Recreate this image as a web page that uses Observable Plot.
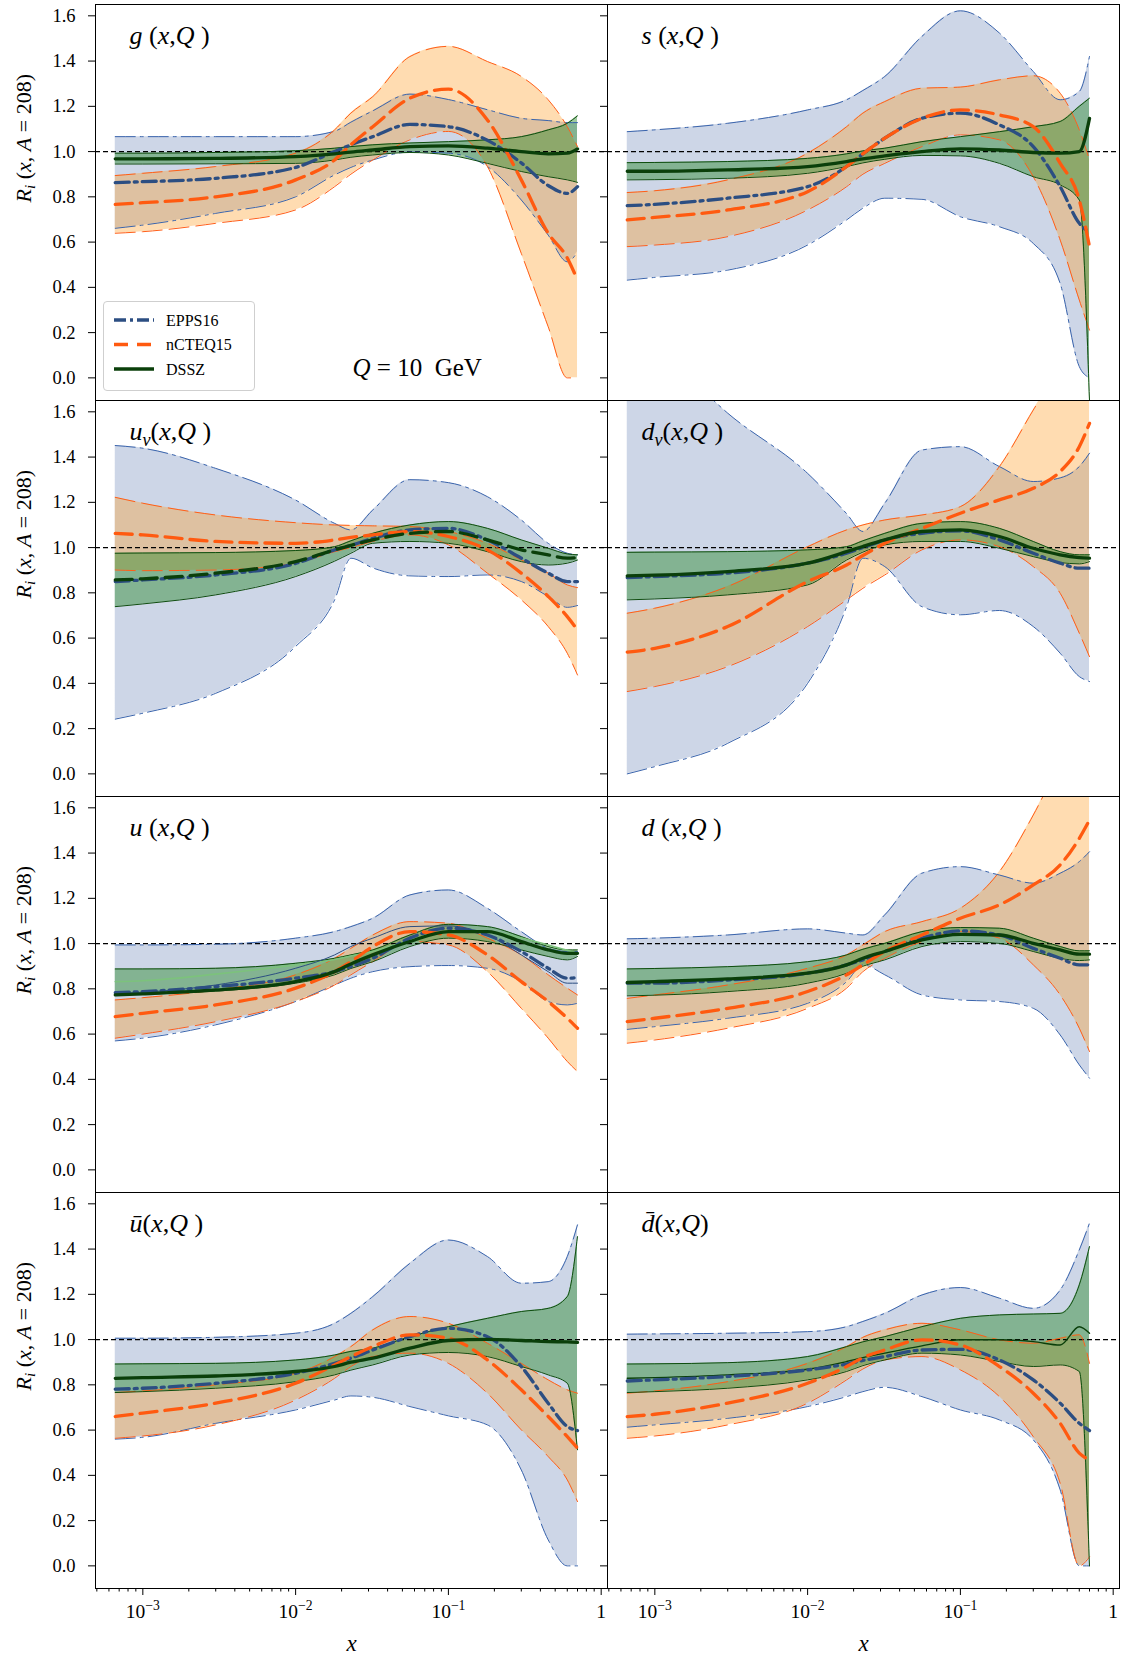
<!DOCTYPE html>
<html><head><meta charset="utf-8">
<script src="https://cdn.jsdelivr.net/npm/d3@7"></script>
<script src="https://cdn.jsdelivr.net/npm/@observablehq/plot@0.6"></script>
<style>
body{margin:0;background:white;}
#wrap{position:relative;width:1123px;height:1655px;}
#wrap svg, #wrap svg text, #wrap svg tspan{font-family:"Liberation Serif", serif;}
#legend{position:absolute;left:103px;top:301px;width:152px;height:90px;border:1px solid #cfcfcf;border-radius:4px;background:rgba(255,255,255,0.85);box-sizing:border-box;}
</style></head>
<body><div id="wrap"><div id="legend"></div></div>
<script>
// ---------- shared grid / ticks ----------
const xs = [0.00066, 0.001, 0.003, 0.01, 0.018, 0.023, 0.032, 0.056, 0.1, 0.18, 0.3, 0.45, 0.6, 0.7];
const yTicks = [0, 0.2, 0.4, 0.6, 0.8, 1.0, 1.2, 1.4, 1.6];
const xMajorTicks = [0.001, 0.01, 0.1, 1];
const xMinorTicks = [5e-4,6e-4,7e-4,8e-4,9e-4,2e-3,3e-3,4e-3,5e-3,6e-3,7e-3,8e-3,9e-3,2e-2,3e-2,4e-2,5e-2,6e-2,7e-2,8e-2,9e-2,0.2,0.3,0.4,0.5,0.6,0.7,0.8,0.9];
const models = ["EPPS16", "nCTEQ15", "DSSZ"];
const panelKeys = ["g", "s", "uv", "dv", "u", "d", "ub", "db"];
const panelCols = ["L", "R", "L", "R", "L", "R", "L", "R"];
const panelRows = [0, 0, 1, 1, 2, 2, 3, 3];
const panelLabels = ["$g~ (~x~,~Q~ )", "$s~ (~x~,~Q~ )", "$u_{v}~(~x~,~Q~ )", "$d_{v}~(~x~,~Q~ )",
                     "$u~ (~x~,~Q~ )", "$d~ (~x~,~Q~ )", "$ū~(~x~,~Q~ )", "$d\u0304~(~x~,~Q~)"];
const yLabelText = "$R_{i}~ (~x~, ~A~ = 208)";
const xLabelText = "$x";
const qLabelText = "$Q~ = 10  GeV";

// ---------- g ----------
const g_epps_c  = [0.863,0.867,0.882,0.93,1.0,1.03,1.066,1.12,1.11,1.05,0.95,0.85,0.815,0.845];
const g_epps_lo = [0.661,0.675,0.727,0.80,0.897,0.93,0.963,0.998,0.993,0.934,0.786,0.631,0.513,0.557];
const g_epps_hi = [1.066,1.066,1.066,1.066,1.09,1.13,1.18,1.254,1.23,1.185,1.147,1.137,1.128,1.128];
const g_ncteq_c  = [0.767,0.774,0.80,0.875,0.963,1.03,1.11,1.236,1.276,1.14,0.875,0.639,0.53,0.432];
const g_ncteq_lo = [0.639,0.646,0.683,0.742,0.845,0.90,0.963,1.052,1.089,0.934,0.55,0.226,0.0,0.0];
const g_ncteq_hi = [0.894,0.904,0.934,0.993,1.096,1.17,1.243,1.42,1.465,1.398,1.332,1.229,1.11,1.022];
const g_dssz_c  = [0.968,0.968,0.97,0.978,0.99,0.998,1.007,1.022,1.025,1.015,1.0,0.99,0.993,1.012];
const g_dssz_lo = [0.945,0.945,0.946,0.948,0.963,0.975,0.985,0.996,0.985,0.948,0.912,0.889,0.875,0.864];
const g_dssz_hi = [0.993,0.993,0.996,1.004,1.015,1.022,1.03,1.038,1.044,1.052,1.066,1.096,1.125,1.158];
// ---------- s ----------
const s_epps_c  = [0.761,0.767,0.794,0.845,0.934,0.99,1.059,1.147,1.17,1.118,1.022,0.845,0.683,0.643];
const s_epps_lo = [0.432,0.444,0.476,0.587,0.698,0.75,0.794,0.789,0.712,0.668,0.594,0.417,0.05,0.0];
const s_epps_hi = [1.088,1.096,1.125,1.184,1.229,1.27,1.332,1.509,1.622,1.524,1.354,1.229,1.265,1.42];
const s_ncteq_c  = [0.698,0.709,0.742,0.823,0.934,0.99,1.059,1.147,1.184,1.162,1.11,0.948,0.786,0.58];
const s_ncteq_lo = [0.58,0.587,0.624,0.742,0.845,0.9,0.948,1.022,1.074,1.052,0.889,0.609,0.344,0.211];
const s_ncteq_hi = [0.819,0.827,0.875,0.993,1.11,1.17,1.221,1.28,1.285,1.317,1.335,1.258,1.096,0.963];
const s_dssz_c  = [0.913,0.913,0.919,0.934,0.956,0.968,0.981,1.0,1.012,1.007,0.996,0.993,1.0,1.147];
const s_dssz_lo = [0.875,0.876,0.882,0.904,0.934,0.95,0.966,0.983,0.981,0.948,0.889,0.853,0.786,-0.1];
const s_dssz_hi = [0.951,0.952,0.956,0.97,0.99,1.003,1.015,1.044,1.066,1.088,1.11,1.133,1.2,1.236];
// ---------- u_v ----------
const uv_epps_c  = [0.85,0.857,0.879,0.93,0.99,1.01,1.041,1.078,1.085,1.034,0.953,0.887,0.85,0.85];
const uv_epps_lo = [0.242,0.268,0.356,0.563,0.769,0.953,0.91,0.875,0.872,0.879,0.85,0.784,0.736,0.744];
const uv_epps_hi = [1.451,1.439,1.35,1.21,1.107,1.078,1.166,1.30,1.287,1.225,1.122,1.019,0.975,0.968];
const uv_ncteq_c  = [1.063,1.056,1.027,1.019,1.034,1.045,1.056,1.071,1.049,0.99,0.887,0.784,0.695,0.636];
const uv_ncteq_lo = [0.901,0.898,0.901,0.931,0.982,1.0,1.027,1.056,1.012,0.887,0.769,0.651,0.533,0.437];
const uv_ncteq_hi = [1.222,1.196,1.144,1.11,1.10,1.098,1.096,1.093,1.071,1.019,0.946,0.887,0.835,0.823];
const uv_dssz_c  = [0.857,0.862,0.887,0.938,0.99,1.01,1.034,1.063,1.071,1.034,0.99,0.968,0.953,0.956];
const uv_dssz_lo = [0.739,0.751,0.791,0.872,0.94,0.975,1.019,1.027,1.019,0.982,0.938,0.923,0.931,0.945];
const uv_dssz_hi = [0.975,0.976,0.978,0.987,1.004,1.03,1.063,1.10,1.115,1.085,1.034,0.997,0.972,0.968];
// ---------- d_v ----------
const dv_epps_c  = [0.867,0.872,0.887,0.931,0.975,1.0,1.034,1.063,1.074,1.034,0.975,0.931,0.909,0.909];
const dv_epps_lo = [0.0,0.032,0.135,0.40,0.739,0.953,0.916,0.739,0.703,0.722,0.651,0.533,0.43,0.408];
const dv_epps_hi = [2.0,1.9,1.594,1.328,1.15,1.071,1.196,1.431,1.446,1.358,1.292,1.308,1.358,1.417];
const dv_ncteq_c  = [0.538,0.555,0.651,0.85,0.923,0.965,1.019,1.085,1.152,1.211,1.262,1.336,1.446,1.549];
const dv_ncteq_lo = [0.364,0.386,0.474,0.651,0.769,0.82,0.879,0.99,1.034,1.004,0.916,0.798,0.622,0.518];
const dv_ncteq_hi = [0.71,0.732,0.828,1.004,1.078,1.1,1.122,1.144,1.181,1.358,1.608,1.8,1.95,2.0];
const dv_dssz_c  = [0.875,0.878,0.894,0.931,0.982,1.005,1.034,1.071,1.078,1.049,0.997,0.968,0.956,0.953];
const dv_dssz_lo = [0.769,0.773,0.791,0.835,0.945,0.98,1.012,1.027,1.027,0.997,0.96,0.934,0.928,0.938];
const dv_dssz_hi = [0.979,0.98,0.982,0.99,1.004,1.03,1.063,1.107,1.115,1.085,1.027,0.982,0.968,0.968];
// ---------- u ----------
const u_epps_c  = [0.783,0.788,0.81,0.847,0.876,0.898,0.935,1.024,1.068,1.038,0.965,0.891,0.847,0.85];
const u_epps_lo = [0.57,0.582,0.641,0.744,0.817,0.847,0.876,0.898,0.903,0.891,0.832,0.744,0.729,0.736];
const u_epps_hi = [0.994,0.994,0.997,1.024,1.053,1.075,1.112,1.215,1.237,1.156,1.053,0.979,0.965,0.965];
const u_ncteq_c  = [0.677,0.692,0.729,0.803,0.876,0.92,0.987,1.053,1.038,0.95,0.832,0.744,0.67,0.626];
const u_ncteq_lo = [0.582,0.60,0.655,0.744,0.817,0.862,0.92,1.009,0.994,0.876,0.714,0.582,0.479,0.434];
const u_ncteq_hi = [0.751,0.761,0.795,0.862,0.935,0.979,1.038,1.097,1.09,1.024,0.95,0.862,0.803,0.773];
const u_dssz_c  = [0.773,0.778,0.795,0.832,0.876,0.91,0.95,1.009,1.053,1.053,1.009,0.972,0.957,0.957];
const u_dssz_lo = [0.773,0.776,0.79,0.825,0.862,0.89,0.92,0.987,1.024,1.009,0.972,0.943,0.928,0.943];
const u_dssz_hi = [0.888,0.888,0.891,0.913,0.935,0.95,0.972,1.038,1.085,1.075,1.031,0.987,0.972,0.972];
const u_extra_green = [0.832,0.836,0.865,0.906,0.93,0.945,0.965,1.015,1.053,1.053,1.025,0.994,0.97,0.957];
const u_extra_blue  = [0.78,0.785,0.817,0.891,0.95,0.987,1.024,1.075,1.078,1.038,0.95,0.876,0.825,0.825];
// ---------- d ----------
const d_epps_c  = [0.825,0.825,0.839,0.869,0.906,0.928,0.965,1.024,1.056,1.038,0.979,0.935,0.906,0.906];
const d_epps_lo = [0.621,0.633,0.67,0.736,0.832,0.906,0.862,0.773,0.751,0.744,0.714,0.596,0.464,0.405];
const d_epps_hi = [1.021,1.024,1.038,1.065,1.046,1.038,1.127,1.311,1.34,1.303,1.267,1.311,1.362,1.406];
const d_ncteq_c  = [0.655,0.67,0.714,0.788,0.862,0.906,0.965,1.038,1.112,1.171,1.259,1.348,1.465,1.546];
const d_ncteq_lo = [0.56,0.574,0.626,0.714,0.803,0.876,0.935,1.009,1.053,1.024,0.906,0.773,0.626,0.523];
const d_ncteq_hi = [0.758,0.773,0.817,0.891,0.95,0.994,1.053,1.097,1.156,1.318,1.568,1.8,1.95,2.0];
const d_dssz_c  = [0.828,0.832,0.844,0.869,0.906,0.935,0.965,1.016,1.041,1.038,1.001,0.972,0.953,0.953];
const d_dssz_lo = [0.769,0.772,0.788,0.825,0.869,0.9,0.928,0.987,1.009,1.001,0.965,0.935,0.925,0.928];
const d_dssz_hi = [0.888,0.89,0.898,0.92,0.95,0.975,1.001,1.053,1.071,1.068,1.024,0.987,0.968,0.968];
// ---------- ubar ----------
const ub_epps_c  = [0.781,0.785,0.807,0.851,0.895,0.918,0.954,1.013,1.05,1.013,0.881,0.719,0.616,0.598];
const ub_epps_lo = [0.56,0.568,0.63,0.689,0.733,0.751,0.745,0.704,0.663,0.623,0.424,0.115,0.0,0.0];
const ub_epps_hi = [1.006,1.006,1.01,1.028,1.072,1.116,1.19,1.337,1.44,1.367,1.249,1.256,1.367,1.507];
const ub_ncteq_c  = [0.66,0.675,0.719,0.807,0.888,0.925,0.969,1.021,1.006,0.91,0.778,0.66,0.571,0.52];
const ub_ncteq_lo = [0.564,0.574,0.623,0.733,0.829,0.881,0.925,0.94,0.895,0.763,0.601,0.483,0.38,0.284];
const ub_ncteq_hi = [0.766,0.773,0.80,0.851,0.925,0.969,1.043,1.102,1.072,0.984,0.895,0.822,0.778,0.763];
const ub_dssz_c  = [0.829,0.832,0.839,0.859,0.881,0.9,0.918,0.962,0.996,1.001,0.996,0.991,0.99,0.988];
const ub_dssz_lo = [0.766,0.77,0.785,0.814,0.844,0.865,0.888,0.932,0.943,0.925,0.881,0.844,0.807,0.513];
const ub_dssz_hi = [0.892,0.893,0.895,0.91,0.932,0.948,0.962,1.013,1.057,1.094,1.124,1.138,1.19,1.455];
// ---------- dbar ----------
const db_epps_c  = [0.817,0.822,0.837,0.866,0.892,0.908,0.925,0.954,0.957,0.91,0.822,0.719,0.63,0.598];
const db_epps_lo = [0.613,0.623,0.652,0.704,0.748,0.77,0.789,0.748,0.689,0.645,0.557,0.336,0.0,0.0];
const db_epps_hi = [1.024,1.025,1.028,1.035,1.057,1.08,1.116,1.197,1.23,1.183,1.138,1.219,1.396,1.514];
const db_ncteq_c  = [0.66,0.67,0.719,0.807,0.881,0.92,0.954,0.999,0.976,0.881,0.763,0.63,0.498,0.468];
const db_ncteq_lo = [0.564,0.574,0.623,0.719,0.822,0.87,0.91,0.925,0.866,0.748,0.571,0.365,0.0,0.04];
const db_ncteq_hi = [0.763,0.773,0.814,0.895,0.969,1.01,1.043,1.072,1.043,0.999,0.984,1.006,1.021,0.895];
const db_dssz_c  = [0.829,0.832,0.844,0.869,0.903,0.92,0.94,0.972,0.999,0.999,0.991,0.976,1.057,1.028];
const db_dssz_lo = [0.766,0.77,0.785,0.822,0.859,0.885,0.91,0.94,0.932,0.903,0.881,0.888,0.859,0.0];
const db_dssz_hi = [0.892,0.893,0.898,0.925,0.969,0.99,1.013,1.057,1.094,1.109,1.113,1.116,1.242,1.411];

// ---------- tables built from the arrays ----------
const bands = {
  g:  {EPPS16:[g_epps_c,g_epps_lo,g_epps_hi], nCTEQ15:[g_ncteq_c,g_ncteq_lo,g_ncteq_hi], DSSZ:[g_dssz_c,g_dssz_lo,g_dssz_hi]},
  s:  {EPPS16:[s_epps_c,s_epps_lo,s_epps_hi], nCTEQ15:[s_ncteq_c,s_ncteq_lo,s_ncteq_hi], DSSZ:[s_dssz_c,s_dssz_lo,s_dssz_hi]},
  uv: {EPPS16:[uv_epps_c,uv_epps_lo,uv_epps_hi], nCTEQ15:[uv_ncteq_c,uv_ncteq_lo,uv_ncteq_hi], DSSZ:[uv_dssz_c,uv_dssz_lo,uv_dssz_hi]},
  dv: {EPPS16:[dv_epps_c,dv_epps_lo,dv_epps_hi], nCTEQ15:[dv_ncteq_c,dv_ncteq_lo,dv_ncteq_hi], DSSZ:[dv_dssz_c,dv_dssz_lo,dv_dssz_hi]},
  u:  {EPPS16:[u_epps_c,u_epps_lo,u_epps_hi], nCTEQ15:[u_ncteq_c,u_ncteq_lo,u_ncteq_hi], DSSZ:[u_dssz_c,u_dssz_lo,u_dssz_hi]},
  d:  {EPPS16:[d_epps_c,d_epps_lo,d_epps_hi], nCTEQ15:[d_ncteq_c,d_ncteq_lo,d_ncteq_hi], DSSZ:[d_dssz_c,d_dssz_lo,d_dssz_hi]},
  ub: {EPPS16:[ub_epps_c,ub_epps_lo,ub_epps_hi], nCTEQ15:[ub_ncteq_c,ub_ncteq_lo,ub_ncteq_hi], DSSZ:[ub_dssz_c,ub_dssz_lo,ub_dssz_hi]},
  db: {EPPS16:[db_epps_c,db_epps_lo,db_epps_hi], nCTEQ15:[db_ncteq_c,db_ncteq_lo,db_ncteq_hi], DSSZ:[db_dssz_c,db_dssz_lo,db_dssz_hi]}
};
const rows = [];
panelKeys.forEach((p, pi) => {
  for (const m of models) {
    const [c, lo, hi] = bands[p][m];
    xs.forEach((x, i) => rows.push({panel: p, col: panelCols[pi], row: panelRows[pi], model: m, x, c: c[i], lo: lo[i], hi: hi[i]}));
  }
});
const extraRows = xs.map((x, i) => ({col: "L", row: 2, x, green: u_extra_green[i], blue: u_extra_blue[i]}));
const panelTable = panelKeys.map((p, i) => ({col: panelCols[i], row: panelRows[i], label: panelLabels[i]}));
const yLabelTable = [0, 1, 2, 3].map(r => ({col: "L", row: r, label: yLabelText}));
const xLabelTable = ["L", "R"].map(c => ({col: c, row: 3, label: xLabelText}));
const qLabelTable = [{col: "L", row: 0, label: qLabelText}];

const FONT = "Liberation Serif";
const sty = {
  EPPS16:  {fill: "#4a6ca8", op: 0.28, stroke: "#2c4e82", edge: "#3a64ac", dash: "14,5,3,5", edgeDash: "20,5,3,5"},
  nCTEQ15: {fill: "#ff9a20", op: 0.35, stroke: "#ff5a10", edge: "#ff5e18", dash: "17,8", edgeDash: "20,7"},
  DSSZ:    {fill: "#2a8a2a", op: 0.45, stroke: "#0a3f0a", edge: "#0e4d0e", dash: undefined, edgeDash: undefined}
};
const F = {fx: "col", fy: "row"};
const marks = [];
for (const m of models)
  marks.push(Plot.areaY(rows.filter(d => d.model === m), {...F, x: "x", y1: "lo", y2: "hi", fill: sty[m].fill, fillOpacity: sty[m].op, curve: "monotone-x", clip: true}));
marks.push(Plot.ruleY([1], {stroke: "black", strokeWidth: 1.3, strokeDasharray: "5,3"}));
for (const m of models) for (const k of ["lo", "hi"])
  marks.push(Plot.lineY(rows.filter(d => d.model === m), {...F, x: "x", y: k, stroke: sty[m].edge, strokeWidth: 1, strokeDasharray: sty[m].edgeDash, curve: "monotone-x", clip: true}));
marks.push(Plot.lineY(extraRows, {...F, x: "x", y: "green", stroke: "#7cc27c", strokeWidth: 1.6, curve: "monotone-x", clip: true}));
marks.push(Plot.lineY(extraRows, {...F, x: "x", y: "blue", stroke: "#2c4e82", strokeWidth: 1, curve: "monotone-x", clip: true}));
// thin DSSZ central in the d-bar panel
marks.push(Plot.lineY(rows.filter(d => d.model === "DSSZ" && d.panel === "db"), {...F, x: "x", y: "c", stroke: sty.DSSZ.stroke, strokeWidth: 1.4, curve: "monotone-x", clip: true}));
for (const m of models)
  marks.push(Plot.lineY(rows.filter(d => d.model === m && !(m === "DSSZ" && (d.panel === "uv" || d.panel === "db"))), {...F, x: "x", y: "c", stroke: sty[m].stroke, strokeWidth: 3.3, strokeDasharray: sty[m].dash, curve: "monotone-x", clip: true}));
marks.push(Plot.lineY(rows.filter(d => d.model === "DSSZ" && d.panel === "uv"), {...F, x: "x", y: "c", stroke: sty.DSSZ.stroke, strokeWidth: 3.3, strokeDasharray: "17,8", curve: "monotone-x", clip: true}));
marks.push(Plot.frame({stroke: "black", strokeWidth: 1}));
marks.push(Plot.axisY({ticks: yTicks, tickFormat: d3.format(".1f"), tickSize: 7, tickPadding: 13, fontSize: 18.5, fontFamily: FONT, label: null}));
marks.push(Plot.axisY({anchor: "left", facetAnchor: "right", ticks: yTicks, tickSize: 7, fill: "none", label: null}));
marks.push(Plot.axisX({ticks: xMajorTicks, tickFormat: d => d === 1 ? "1" : "10^{\u2212" + Math.round(-Math.log10(d)) + "}", tickSize: 7, tickPadding: 9, fontSize: 19.5, fontFamily: FONT, label: null}));
marks.push(Plot.axisX({ticks: xMinorTicks, tickSize: 3.5, fill: "none", label: null}));
marks.push(Plot.text(panelTable, {...F, text: "label", frameAnchor: "top-left", textAnchor: "start", lineAnchor: "top", dx: 34, dy: 21, fontSize: 26, fontFamily: FONT}));
marks.push(Plot.text(yLabelTable, {...F, text: "label", frameAnchor: "left", rotate: -90, dx: -72, fontSize: 22, fontFamily: FONT}));
marks.push(Plot.text(xLabelTable, {...F, text: "label", frameAnchor: "bottom", lineAnchor: "middle", dy: 55, fontSize: 23, fontFamily: FONT}));
marks.push(Plot.text(qLabelTable, {...F, text: "label", frameAnchor: "bottom-left", textAnchor: "start", lineAnchor: "bottom", dx: 257, dy: -25, fontSize: 25, fontFamily: FONT}));

const chart = Plot.plot({
  width: 1123, height: 1655,
  marginLeft: 94, marginRight: 4, marginTop: 4, marginBottom: 67,
  style: {background: "white", fontFamily: FONT, color: "black"},
  x: {type: "log", domain: [4.9e-4, 1.1]},
  y: {domain: [-0.1, 1.65]},
  fx: {domain: ["L", "R"], padding: 0, axis: null},
  fy: {domain: [0, 1, 2, 3], padding: 0, axis: null},
  marks
});
const wrap = document.getElementById("wrap");
wrap.insertBefore(chart, wrap.firstChild);

// ---------- rich text: italics (~ toggles), sub/superscripts ----------
function richify(root) {
  root.querySelectorAll("text").forEach(el => {
    const t = el.textContent;
    if (!/[_^~$]/.test(t)) return;
    const fs = parseFloat(getComputedStyle(el).fontSize) || 17;
    let italic = t.startsWith("$");
    const s = italic ? t.slice(1) : t;
    const runs = []; let cur = {text: "", italic, shift: 0};
    const push = () => { if (cur.text) runs.push(cur); };
    for (let i = 0; i < s.length;) {
      const ch = s[i];
      if (ch === "~") { push(); italic = !italic; cur = {text: "", italic, shift: 0}; i++; continue; }
      if ((ch === "_" || ch === "^") && s[i + 1] === "{") {
        push(); const j = s.indexOf("}", i + 2);
        runs.push({text: s.slice(i + 2, j), italic, shift: ch === "_" ? 1 : -1});
        cur = {text: "", italic, shift: 0}; i = j + 1; continue;
      }
      cur.text += ch; i++;
    }
    push();
    while (el.firstChild) el.removeChild(el.firstChild);
    el.style.whiteSpace = "pre";
    let prev = 0;
    for (const r of runs) {
      const ts = document.createElementNS("http://www.w3.org/2000/svg", "tspan");
      const off = r.shift === 1 ? 0.22 * fs : r.shift === -1 ? -0.42 * fs : 0;
      if (off - prev) ts.setAttribute("dy", off - prev);
      prev = off;
      if (r.shift) ts.setAttribute("font-size", 0.7 * fs);
      ts.setAttribute("font-style", r.italic ? "italic" : "normal");
      ts.textContent = r.text;
      el.appendChild(ts);
    }
  });
}
richify(chart);

// ---------- legend ----------
const lg = d3.select("#legend").append("svg").attr("width", 150).attr("height", 88);
models.forEach((m, i) => {
  const y = 18 + i * 24.5;
  lg.append("line").attr("x1", 10).attr("x2", 50).attr("y1", y).attr("y2", y)
    .attr("stroke", sty[m].stroke).attr("stroke-width", 3.3).attr("stroke-dasharray", sty[m].dash ? (m === "EPPS16" ? "12,4,3,4" : "14,9") : null);
  lg.append("text").attr("x", 62).attr("y", y).attr("dy", "0.35em").attr("font-family", FONT).attr("font-size", 16).text(m);
});
</script>
</body></html>
